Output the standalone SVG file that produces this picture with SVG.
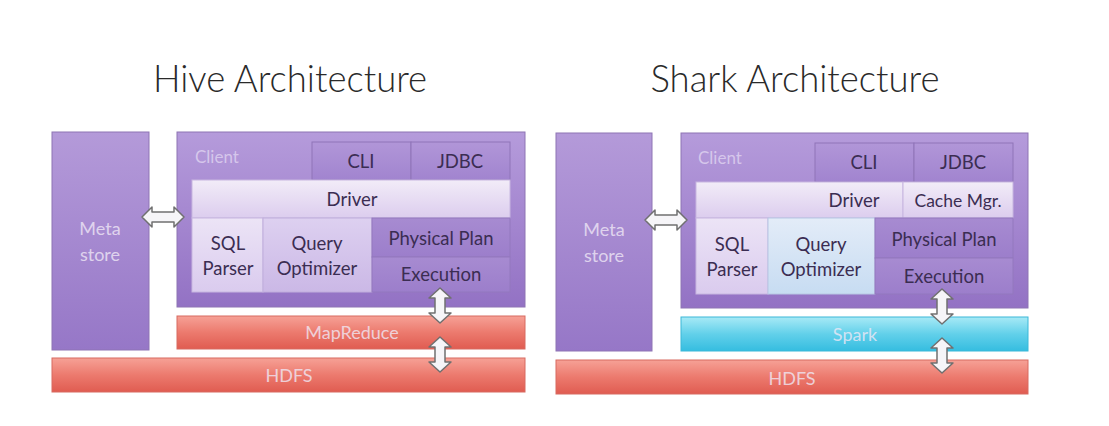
<svg xmlns="http://www.w3.org/2000/svg" width="1109" height="426" viewBox="0 0 1109 426">
<defs>
<linearGradient id="gMeta" x1="0" y1="0" x2="0" y2="1"><stop offset="0" stop-color="#b49ad9"/><stop offset="1" stop-color="#9677c7"/></linearGradient>
<linearGradient id="gClient" x1="0" y1="0" x2="0" y2="1"><stop offset="0" stop-color="#b59bdb"/><stop offset="1" stop-color="#9372c4"/></linearGradient>
<linearGradient id="gCell" x1="0" y1="0" x2="0" y2="1"><stop offset="0" stop-color="#b196d8"/><stop offset="1" stop-color="#a184cf"/></linearGradient>
<linearGradient id="gDriver" x1="0" y1="0" x2="0" y2="1"><stop offset="0" stop-color="#f2ecf8"/><stop offset="1" stop-color="#dccdee"/></linearGradient>
<linearGradient id="gSql" x1="0" y1="0" x2="0" y2="1"><stop offset="0" stop-color="#ece4f6"/><stop offset="1" stop-color="#dacbee"/></linearGradient>
<linearGradient id="gQo" x1="0" y1="0" x2="0" y2="1"><stop offset="0" stop-color="#ddd0f0"/><stop offset="1" stop-color="#cbb8e6"/></linearGradient>
<linearGradient id="gQoBlue" x1="0" y1="0" x2="0" y2="1"><stop offset="0" stop-color="#e3ecf8"/><stop offset="1" stop-color="#c7dcf2"/></linearGradient>
<linearGradient id="gPhys" x1="0" y1="0" x2="0" y2="1"><stop offset="0" stop-color="#a78bd1"/><stop offset="1" stop-color="#9c7ecb"/></linearGradient>
<linearGradient id="gRed" x1="0" y1="0" x2="0" y2="1"><stop offset="0" stop-color="#f6a196"/><stop offset="0.5" stop-color="#ec7a6e"/><stop offset="1" stop-color="#e05c51"/></linearGradient>
<linearGradient id="gCyan" x1="0" y1="0" x2="0" y2="1"><stop offset="0" stop-color="#a8eaf6"/><stop offset="0.5" stop-color="#62d0ea"/><stop offset="1" stop-color="#35bde0"/></linearGradient>
</defs>
<style>
.title{font-family:Lato,"Liberation Sans",sans-serif;font-size:36.5px;fill:#2a2a2a;text-anchor:middle;font-weight:300}
.lbl{font-family:Lato,"Open Sans","Liberation Sans",sans-serif;font-size:18.5px;fill:#3b2d52;text-anchor:middle}
.wlbl{font-family:Lato,"Open Sans","Liberation Sans",sans-serif;font-size:18px;fill:#efe8f6;fill-opacity:0.8;text-anchor:middle}
.clbl{font-family:Lato,"Open Sans","Liberation Sans",sans-serif;font-size:17px;fill:#ddd0ef;fill-opacity:0.85}
.box{stroke:#8e75b4;stroke-width:1}
.cell{fill:url(#gCell);stroke:#8f74b8;stroke-width:1}
.red{fill:url(#gRed);stroke:#d86a60;stroke-width:1}
.arrow{fill:#f6f5f8;stroke:#707070;stroke-width:1.5;stroke-linejoin:round}
</style>
<rect width="1109" height="426" fill="#ffffff"/>

<g id="hive">
<text class="title" x="290" y="92">Hive Architecture</text>
<g id="hive-metastore"><rect x="52" y="132" width="97" height="218" fill="url(#gMeta)" class="box"/><text class="wlbl" x="100" y="235">Meta</text><text class="wlbl" x="100" y="261">store</text></g>
<g id="hive-client"><rect x="177" y="132" width="348" height="175" fill="url(#gClient)" class="box"/><text class="clbl" x="195" y="163">Client</text></g>
<g id="hive-cli"><rect x="312" y="142" width="99" height="38" class="cell"/><text class="lbl" x="361" y="168">CLI</text></g>
<g id="hive-jdbc"><rect x="411" y="142" width="99" height="38" class="cell"/><text class="lbl" x="460" y="168">JDBC</text></g>
<g id="hive-driver"><rect x="192" y="180" width="318" height="38" fill="url(#gDriver)" stroke="#c7b6e0"/><text class="lbl" x="352" y="206">Driver</text></g>
<g id="hive-sql"><rect x="192" y="218" width="71" height="74" fill="url(#gSql)" stroke="#c7b6e0"/><text class="lbl" x="228" y="250">SQL</text><text class="lbl" x="228" y="275">Parser</text></g>
<g id="hive-qo"><rect x="263" y="218" width="109" height="74" fill="url(#gQo)" stroke="#c0aedc"/><text class="lbl" x="317" y="250">Query</text><text class="lbl" x="317" y="275">Optimizer</text></g>
<g id="hive-phys"><rect x="372" y="218" width="138" height="39" fill="url(#gPhys)" stroke="#9378be"/><text class="lbl" x="441" y="245">Physical Plan</text></g>
<g id="hive-exec"><rect x="372" y="257" width="138" height="35" fill="url(#gPhys)" stroke="#9378be"/><text class="lbl" x="441" y="281">Execution</text></g>
<g id="hive-mapreduce"><rect x="177" y="316" width="348" height="33" class="red"/><text class="wlbl" x="352" y="339">MapReduce</text></g>
<g id="hive-hdfs"><rect x="52" y="358" width="473" height="34" class="red"/><text class="wlbl" x="289" y="382">HDFS</text></g>
</g>

<g id="shark">
<text class="title" x="795" y="92">Shark Architecture</text>
<g id="shark-metastore"><rect x="556" y="133" width="96" height="218" fill="url(#gMeta)" class="box"/><text class="wlbl" x="604" y="236">Meta</text><text class="wlbl" x="604" y="262">store</text></g>
<g id="shark-client"><rect x="681" y="133" width="347" height="175" fill="url(#gClient)" class="box"/><text class="clbl" x="698" y="164">Client</text></g>
<g id="shark-cli"><rect x="815" y="143" width="99" height="39" class="cell"/><text class="lbl" x="864" y="169">CLI</text></g>
<g id="shark-jdbc"><rect x="914" y="143" width="99" height="39" class="cell"/><text class="lbl" x="963" y="169">JDBC</text></g>
<g id="shark-driver"><rect x="696" y="182" width="207" height="36" fill="url(#gDriver)" stroke="#c7b6e0"/><text class="lbl" x="854" y="207">Driver</text></g>
<g id="shark-cache"><rect x="903" y="182" width="110" height="36" fill="url(#gDriver)" stroke="#c7b6e0"/><text class="lbl" x="958" y="207" style="font-size:17.5px">Cache Mgr.</text></g>
<g id="shark-sql"><rect x="696" y="218" width="72" height="76" fill="url(#gSql)" stroke="#c7b6e0"/><text class="lbl" x="732" y="251">SQL</text><text class="lbl" x="732" y="276">Parser</text></g>
<g id="shark-qo"><rect x="768" y="218" width="107" height="76" fill="url(#gQoBlue)" stroke="#b8c8e4"/><text class="lbl" x="821" y="251">Query</text><text class="lbl" x="821" y="276">Optimizer</text></g>
<g id="shark-phys"><rect x="875" y="218" width="138" height="40" fill="url(#gPhys)" stroke="#9378be"/><text class="lbl" x="944" y="246">Physical Plan</text></g>
<g id="shark-exec"><rect x="875" y="258" width="138" height="36" fill="url(#gPhys)" stroke="#9378be"/><text class="lbl" x="944" y="283">Execution</text></g>
<g id="shark-spark"><rect x="681" y="317" width="347" height="34" fill="url(#gCyan)" stroke="#3ab8d8"/><text class="wlbl" x="855" y="341">Spark</text></g>
<g id="shark-hdfs"><rect x="556" y="360" width="472" height="34" class="red"/><text class="wlbl" x="792" y="385">HDFS</text></g>
</g>

<g id="connectors">
<path class="arrow" d="M142,217 L152,207 L152,212 L174,212 L174,207 L184,217 L174,227 L174,222 L152,222 L152,227 Z"/>
<path class="arrow" d="M440,288 L451,298 L445,298 L445,313 L451,313 L440,323 L429,313 L435,313 L435,298 L429,298 Z"/>
<path class="arrow" d="M440,337 L451,347 L445,347 L445,362 L451,362 L440,372 L429,362 L435,362 L435,347 L429,347 Z"/>
<path class="arrow" d="M645,220 L655,210 L655,215 L677,215 L677,210 L687,220 L677,230 L677,225 L655,225 L655,230 Z"/>
<path class="arrow" d="M942,289 L953,299 L947,299 L947,314 L953,314 L942,324 L931,314 L937,314 L937,299 L931,299 Z"/>
<path class="arrow" d="M942,338 L953,348 L947,348 L947,363 L953,363 L942,373 L931,363 L937,363 L937,348 L931,348 Z"/>
</g>
</svg>
